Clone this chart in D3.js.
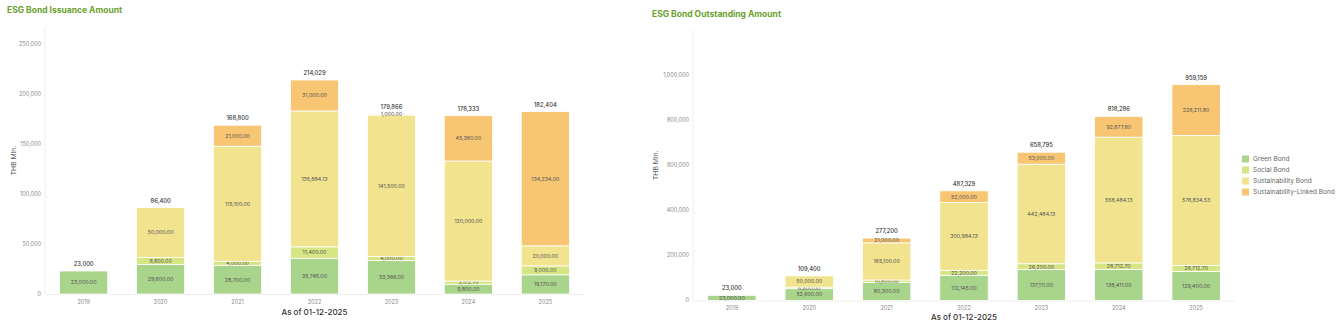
<!DOCTYPE html>
<html>
<head>
<meta charset="utf-8">
<script src="https://cdn.jsdelivr.net/npm/d3@7/dist/d3.min.js"></script>
<style>
  html, body { margin: 0; padding: 0; background: #fff; }
  svg { display: block; font-family: Inter, "Noto Sans", sans-serif; }
</style>
</head>
<body>
<svg id="chart" width="1342" height="323"></svg>
<script>
// ---------- DATA ----------
const years = ["2019", "2020", "2021", "2022", "2023", "2024", "2025"];
const seriesNames = ["Green Bond", "Social Bond", "Sustainability Bond", "Sustainability-Linked Bond"];
const seriesColors = ["#a9d48b", "#d7e685", "#f2e38e", "#f8c572"];

// Issuance amount (THB Mln.)
const issGreen = [23000, 29600, 28700, 35745, 33366, 9800, 19170];
const issSocial = [0, 6800, 4000, 11400, 4000, 3172.70, 9000];
const issSust = [0, 50000, 115100, 135884.13, 141500, 120000, 20000];
const issSLB = [0, 0, 21000, 31000, 1000, 45360, 134234];
const issTicks = [0, 50000, 100000, 150000, 200000, 250000];

// Outstanding amount (THB Mln.)
const outGreen = [23000, 52600, 80300, 112145, 137111, 138411, 129400];
const outSocial = [0, 6800, 10800, 22200, 26200, 28712.70, 26712.70];
const outSust = [0, 50000, 165100, 300984.13, 442484.13, 558484.13, 576834.53];
const outSLB = [0, 0, 21000, 52000, 53000, 92677.80, 226211.80];
const outTicks = [0, 200000, 400000, 600000, 800000, 1000000];

const titles = ["ESG Bond Issuance Amount", "ESG Bond Outstanding Amount"];
const yTitle = "THB Mln.";
const xTitle = "As of 01-12-2025";

// ---------- DRAW ----------
const svg = d3.select("#chart");
const fmtSeg = d3.format(",.2f");
const fmtTot = d3.format(",.0f");

function drawChart(cfg) {
  const { series, ticks, yMax, left, right, top, bottom, title, titleX, titleY, yTitleX, xTickY, xTitleY, labelX } = cfg;
  const g = svg.append("g");

  g.append("text").attr("x", titleX).attr("y", titleY)
    .attr("font-size", 8.5).attr("font-weight", 700).attr("fill", "#6a9f2c").text(title);

  const x = d3.scaleBand().domain(years).range([left, right]).paddingInner(0.375).paddingOuter(0.19);
  const y = d3.scaleLinear().domain([0, yMax]).range([bottom, top]);

  g.append("line").attr("x1", left).attr("x2", left).attr("y1", top).attr("y2", bottom)
    .attr("stroke", "#eeeeee").attr("stroke-width", 1);
  g.append("line").attr("x1", left).attr("x2", right).attr("y1", bottom + 0.5).attr("y2", bottom + 0.5)
    .attr("stroke", "#eeeeee").attr("stroke-width", 1);

  g.selectAll(".ytick").data(ticks).join("text")
    .attr("x", labelX).attr("y", d => y(d)).attr("dy", "0.35em")
    .attr("text-anchor", "end").attr("font-size", 5.5).attr("fill", "#888").text(d => d3.format(",")(d));

  g.selectAll(".xtick").data(years).join("text")
    .attr("x", d => x(d) + x.bandwidth() / 2).attr("y", xTickY)
    .attr("text-anchor", "middle").attr("font-size", 5.5).attr("fill", "#888").text(d => d);

  const step = x.step();
  g.selectAll(".xmark").data(years.slice(1)).join("line")
    .attr("x1", d => x(d) - (step - x.bandwidth()) / 2).attr("x2", d => x(d) - (step - x.bandwidth()) / 2)
    .attr("y1", bottom).attr("y2", bottom + 2).attr("stroke", "#eeeeee");

  const rows = years.map((yr, i) => {
    const o = { year: yr };
    seriesNames.forEach((s, k) => o[s] = series[k][i]);
    return o;
  });
  const stack = d3.stack().keys(seriesNames)(rows);

  stack.forEach((layer, k) => {
    const lg = g.append("g");
    lg.selectAll("rect").data(layer.filter(d => d[1] - d[0] > 0)).join("rect")
      .attr("x", d => x(d.data.year)).attr("width", x.bandwidth())
      .attr("y", d => y(d[1])).attr("height", d => Math.max(0, y(d[0]) - y(d[1])))
      .attr("fill", seriesColors[k]).attr("stroke", "#fff").attr("stroke-width", 0.8);
    lg.selectAll("text").data(layer.filter(d => d[1] - d[0] > 0)).join("text")
      .attr("x", d => x(d.data.year) + x.bandwidth() / 2)
      .attr("y", d => (y(d[0]) + y(d[1])) / 2).attr("dy", "0.35em")
      .attr("text-anchor", "middle").attr("font-size", 5.3).attr("fill", "#555")
      .text(d => fmtSeg(d.data[seriesNames[k]]));
  });

  const totals = rows.map(r => ({ year: r.year, total: d3.sum(seriesNames, s => r[s]) }));
  g.selectAll(".tot").data(totals).join("text")
    .attr("x", d => x(d.year) + x.bandwidth() / 2).attr("y", d => y(d.total) - 5)
    .attr("text-anchor", "middle").attr("font-size", 5.8).attr("font-weight", 500).attr("fill", "#333")
    .text(d => fmtTot(d.total));

  g.append("text").attr("transform", `translate(${yTitleX},${(top + bottom) / 2}) rotate(-90)`)
    .attr("text-anchor", "middle").attr("font-size", 6.8).attr("fill", "#555").text(yTitle);
  g.append("text").attr("x", (left + right) / 2).attr("y", xTitleY)
    .attr("text-anchor", "middle").attr("font-size", 8).attr("font-weight", 500).attr("fill", "#333").text(xTitle);
}

drawChart({
  series: [issGreen, issSocial, issSust, issSLB], ticks: issTicks, yMax: 267000,
  left: 45, right: 584, top: 27, bottom: 294, title: titles[0], titleX: 7, titleY: 13,
  yTitleX: 16, xTickY: 304, xTitleY: 315, labelX: 41
});
drawChart({
  series: [outGreen, outSocial, outSust, outSLB], ticks: outTicks, yMax: 1202000,
  left: 693, right: 1235, top: 30, bottom: 300.5, title: titles[1], titleX: 652, titleY: 17,
  yTitleX: 658, xTickY: 310, xTitleY: 320, labelX: 689
});

const legend = svg.append("g");
seriesNames.forEach((s, k) => {
  const yy = 159 + k * 11;
  legend.append("rect").attr("x", 1242).attr("y", yy - 3.5).attr("width", 7).attr("height", 7).attr("fill", seriesColors[k]);
  legend.append("text").attr("x", 1253).attr("y", yy).attr("dy", "0.35em")
    .attr("font-size", 6.5).attr("fill", "#666").text(s);
});
</script>
</body>
</html>
